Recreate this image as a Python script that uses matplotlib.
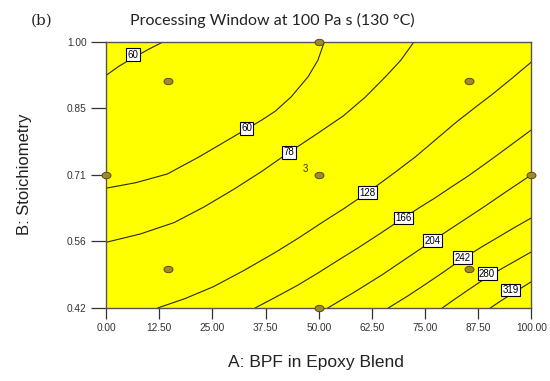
"""Processing window contour plot (viscosity 100 Pa s at 130 C)."""

import matplotlib.pyplot as plt
from matplotlib.path import Path
from matplotlib.transforms import Affine2D

# Axis ticks
x_ticks = [0, 12.5, 25, 37.5, 50, 62.5, 75, 87.5, 100]
x_tick_labels = ["0.00", "12.50", "25.00", "37.50", "50.00", "62.50", "75.00", "87.50", "100.00"]
y_ticks = [0.42, 0.565, 0.71, 0.855, 1.00]
y_tick_labels = ["0.42", "0.56", "0.71", "0.85", "1.00"]

# Design points (A: BPF %, B: stoichiometry)
design_a = [0, 14.64, 14.64, 50, 50, 50, 85.36, 85.36, 100]
design_b = [0.71, 0.915, 0.505, 1.00, 0.71, 0.42, 0.915, 0.505, 0.71]

# Contour lines
c60_top_a = [0, 3, 6.5, 10, 13.4]
c60_top_b = [0.927, 0.947, 0.966, 0.984, 1.00]
c60_a = [0, 7, 14.4, 22, 29.9, 33.2, 36.5, 39.8, 43.5, 47.5, 49.8, 51.3]
c60_b = [0.681, 0.693, 0.712, 0.750, 0.793, 0.811, 0.829, 0.849, 0.880, 0.924, 0.960, 1.00]
c78_a = [0, 8, 16, 23, 30.1, 36.5, 43.0, 49.5, 55.7, 61, 65.8, 69.3, 72.4]
c78_b = [0.563, 0.581, 0.606, 0.640, 0.679, 0.717, 0.759, 0.799, 0.838, 0.880, 0.925, 0.960, 1.00]
c128_a = [12.2, 18.5, 25.2, 32.5, 39.8, 45.2, 50.6, 56.0, 61.4, 67, 72.7, 77.4, 82.1, 86.5, 91.0, 95.5, 100]
c128_b = [0.42, 0.440, 0.466, 0.502, 0.541, 0.572, 0.605, 0.637, 0.671, 0.709, 0.749, 0.786, 0.823, 0.855,
          0.887, 0.921, 0.956]
c166_a = [35.1, 39.8, 45, 50.0, 54.6, 59.3, 64.6, 69.9, 73.6, 77.4, 81.1, 84.9, 88.7, 92.4, 96.2, 100]
c166_b = [0.42, 0.443, 0.469, 0.497, 0.524, 0.551, 0.583, 0.616, 0.638, 0.660, 0.683, 0.706, 0.731, 0.756,
          0.782, 0.808]
c204_a = [52.2, 58.5, 64.9, 70.8, 76.7, 82.6, 88.5, 94.2, 100]
c204_b = [0.42, 0.455, 0.492, 0.529, 0.566, 0.602, 0.638, 0.674, 0.71]
c242_a = [66.4, 70.8, 75.2, 79.5, 83.8, 88, 92.0, 96, 100]
c242_b = [0.42, 0.445, 0.472, 0.499, 0.527, 0.551, 0.573, 0.595, 0.616]
c280_a = [79.1, 82, 85.0, 88.5, 92.0, 96, 100]
c280_b = [0.42, 0.439, 0.458, 0.480, 0.500, 0.521, 0.542]
c319_a = [90.4, 92.8, 95.2, 97.6, 100]
c319_b = [0.42, 0.435, 0.449, 0.463, 0.477]

# Contour labels and where they sit
contour_labels = ["60", "60", "78", "128", "166", "204", "242", "280", "319"]
label_a = [6.4, 33.0, 43.0, 61.4, 69.9, 76.7, 83.8, 89.6, 95.1]
label_b = [0.972, 0.812, 0.759, 0.671, 0.616, 0.566, 0.529, 0.494, 0.459]


def plot():
    fig = plt.figure(figsize=(5.5, 3.81), dpi=100)
    ax = fig.add_axes([0.193, 0.192, 0.773, 0.698])
    ax.set_facecolor("#ffff00")

    lines = [
        (c60_top_a, c60_top_b), (c60_a, c60_b), (c78_a, c78_b),
        (c128_a, c128_b), (c166_a, c166_b), (c204_a, c204_b),
        (c242_a, c242_b), (c280_a, c280_b), (c319_a, c319_b),
    ]
    for xs, ys in lines:
        ax.plot(xs, ys, color="#2a2a10", lw=0.8, solid_joinstyle="round")

    for text, a, b in zip(contour_labels, label_a, label_b):
        ax.text(a, b, text, fontsize=7, family="Liberation Sans", ha="center", va="center",
                bbox=dict(boxstyle="square,pad=0.15", fc="white", ec="black", lw=0.8), zorder=5)

    # slightly flattened design point markers
    ellipse = Path.unit_circle().transformed(Affine2D().scale(1.4, 1.0))
    ax.plot(design_a, design_b, ls="none", marker=ellipse, ms=6.5,
            mfc="#a08a28", mec="#4a3c10", mew=0.6, clip_on=False, zorder=6)
    ax.text(47.6, 0.722, "3", fontsize=7, family="Liberation Sans", color="#3a3010",
            ha="right", va="center")

    ax.set_xlim(0, 100)
    ax.set_ylim(0.42, 1.00)
    ax.set_xticks(x_ticks)
    ax.set_xticklabels(x_tick_labels)
    ax.set_yticks(y_ticks)
    ax.set_yticklabels(y_tick_labels)
    ax.tick_params(direction="out", width=0.9, color="#333333", labelsize=7.3, pad=3)
    ax.tick_params(axis="x", length=8)
    ax.tick_params(axis="y", length=11)
    for lab in ax.get_xticklabels() + ax.get_yticklabels():
        lab.set_family("Liberation Sans")
        lab.set_color("#333333")
    for side in ax.spines.values():
        side.set_color("#555555")
        side.set_linewidth(1.0)

    fig.text(0.575, 0.049, "A: BPF in Epoxy Blend", fontsize=12.5, family="Liberation Sans",
             color="#222222", ha="center", va="center")
    fig.text(0.045, 0.543, "B: Stoichiometry", fontsize=12, family="Liberation Sans",
             color="#222222", rotation=90, ha="center", va="center")
    fig.text(0.495, 0.945, "Processing Window at 100 Pa s (130 \u00b0C)", fontsize=11.5,
             family="Lato", color="#222222", ha="center", va="center")
    fig.text(0.076, 0.945, "(b)", fontsize=11, family="DejaVu Serif", color="#222222",
             ha="center", va="center")

    fig.savefig("out.png", dpi=100)
    plt.close(fig)


if __name__ == "__main__":
    plot()
